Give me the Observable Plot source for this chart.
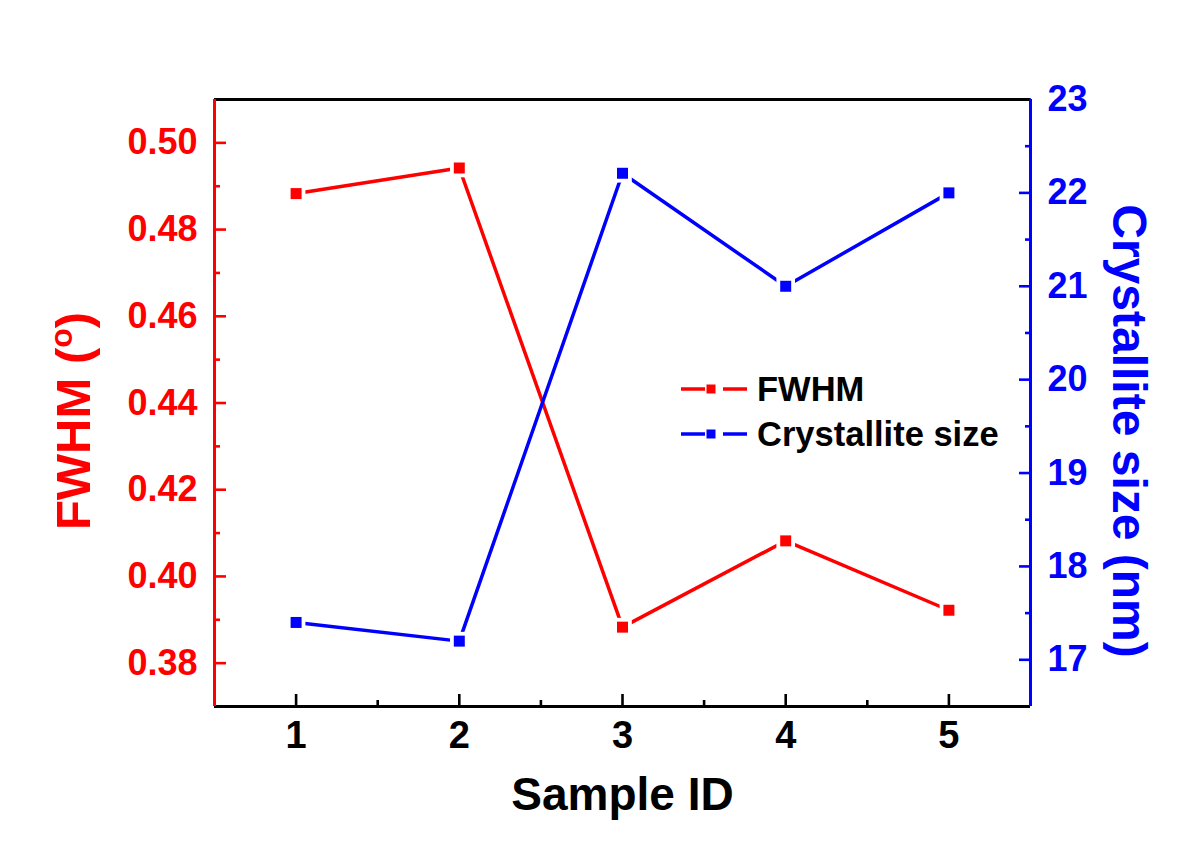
<!DOCTYPE html>
<html><head><meta charset="utf-8">
<script src="https://cdn.jsdelivr.net/npm/d3@7"></script>
<script src="https://cdn.jsdelivr.net/npm/@observablehq/plot@0.6"></script>
<style>body{margin:0;background:#fff} #chart{width:1200px;height:848px}</style>
</head><body><div id="chart"></div>
<script>
const sampleIds = [1, 2, 3, 4, 5];
const fwhm = [0.4883, 0.4942, 0.3883, 0.4082, 0.3922];
const crystalliteSize = [17.40, 17.20, 22.21, 21.00, 22.00];
const xDomain = [0.5, 5.5];
const leftDomain = [0.37, 0.51];
const rightDomain = [16.5, 23];
const xTicks = [1, 2, 3, 4, 5];
const xMinorTicks = [1.5, 2.5, 3.5, 4.5];
const leftTicks = [0.38, 0.40, 0.42, 0.44, 0.46, 0.48, 0.50];
const leftMinorTicks = [0.39, 0.41, 0.43, 0.45, 0.47, 0.49];
const rightTicks = [17, 18, 19, 20, 21, 22, 23];
const rightMinorTicks = [17.5, 18.5, 19.5, 20.5, 21.5, 22.5];
const xLabel = "Sample ID";
const leftLabel = "FWHM (o)";
const rightLabel = "Crystallite size (nm)";
const seriesNames = ["FWHM", "Crystallite size"];

const RED = "#ff0000", BLUE = "#0000ff";
const FONT = "Liberation Sans, Arial, Helvetica, sans-serif";

// map right-axis values into left-axis space
const toLeft = c => leftDomain[0] + (c - rightDomain[0]) * (leftDomain[1] - leftDomain[0]) / (rightDomain[1] - rightDomain[0]);
const fromLeft = v => rightDomain[0] + (v - leftDomain[0]) * (rightDomain[1] - rightDomain[0]) / (leftDomain[1] - leftDomain[0]);

const fwhmData = sampleIds.map((s, i) => ({sample: s, value: fwhm[i]}));
const sizeData = sampleIds.map((s, i) => ({sample: s, value: toLeft(crystalliteSize[i])}));

const axisStyle = {fontSize: 36, fontWeight: "bold", strokeWidth: 2.6, label: null};

const plot = Plot.plot({
  width: 1200,
  height: 848,
  marginLeft: 214,
  marginRight: 170,
  marginTop: 99,
  marginBottom: 142,
  style: {fontFamily: FONT, background: "white", overflow: "visible"},
  x: {domain: xDomain},
  y: {domain: leftDomain},
  marks: [
    // axes ticks & labels
    Plot.axisX({...axisStyle, ticks: xTicks, tickSize: -12, tickPadding: 27, fontSize: 38, color: "black", tickFormat: d => String(d)}),
    Plot.axisX({...axisStyle, ticks: xMinorTicks, tickSize: -6, tickPadding: 0, color: "black", tickFormat: () => ""}),
    Plot.axisY({...axisStyle, anchor: "left", ticks: leftTicks, tickSize: -12, tickPadding: 29, color: RED, tickFormat: d3.format(".2f")}),
    Plot.axisY({...axisStyle, anchor: "left", ticks: leftMinorTicks, tickSize: -6, tickPadding: 0, color: RED, tickFormat: () => ""}),
    Plot.axisY({...axisStyle, anchor: "right", ticks: rightTicks.map(toLeft), tickSize: -12, tickPadding: 29, color: BLUE, tickFormat: d => String(Math.round(fromLeft(d)))}),
    Plot.axisY({...axisStyle, anchor: "right", ticks: rightMinorTicks.map(toLeft), tickSize: -6, tickPadding: 0, color: BLUE, tickFormat: () => ""}),
    // frame
    Plot.ruleY([leftDomain[1]], {stroke: "black", strokeWidth: 3}),
    Plot.ruleY([leftDomain[0]], {stroke: "black", strokeWidth: 3}),
    Plot.ruleX([xDomain[0]], {stroke: RED, strokeWidth: 3}),
    Plot.ruleX([xDomain[1]], {stroke: BLUE, strokeWidth: 3}),
    // data
    Plot.line(fwhmData, {x: "sample", y: "value", stroke: RED, strokeWidth: 3.5}),
    Plot.line(sizeData, {x: "sample", y: "value", stroke: BLUE, strokeWidth: 3.5}),
    Plot.dot(fwhmData, {x: "sample", y: "value", symbol: "square", r: 10.5, fill: "white"}),
    Plot.dot(sizeData, {x: "sample", y: "value", symbol: "square", r: 10.5, fill: "white"}),
    Plot.dot(fwhmData, {x: "sample", y: "value", symbol: "square", r: 6.2, fill: RED}),
    Plot.dot(sizeData, {x: "sample", y: "value", symbol: "square", r: 6.2, fill: BLUE}),
    // axis titles
    Plot.text([xLabel], {frameAnchor: "bottom", lineAnchor: "bottom", textAnchor: "middle", dy: 103, fontSize: 46, fontWeight: "bold", fill: "black"}),
    Plot.text([leftLabel], {frameAnchor: "left", textAnchor: "middle", dx: -140, dy: 18, rotate: -90, lineAnchor: "middle", fontSize: 49, fontWeight: "bold", fill: RED}),
    Plot.text([rightLabel], {frameAnchor: "right", textAnchor: "middle", dx: 98, dy: 28, rotate: 90, lineAnchor: "middle", fontSize: 48, fontWeight: "bold", fill: BLUE})
  ]
});

document.getElementById("chart").appendChild(plot);

// superscript "o" in the left axis title
const svg = d3.select(plot);
svg.selectAll("text").each(function() {
  if (this.textContent === leftLabel) {
    const t = d3.select(this);
    t.text(null);
    t.append("tspan").text("FWHM (");
    t.append("tspan").attr("font-size", 32).attr("dy", -18).text("o");
    t.append("tspan").attr("dy", 18).text(")");
  }
});

// legend
const legend = svg.append("g").attr("font-family", FONT).attr("text-anchor", "start");
const rows = [{name: seriesNames[0], color: RED, y: 389}, {name: seriesNames[1], color: BLUE, y: 434}];
rows.forEach(r => {
  legend.append("line").attr("x1", 681).attr("x2", 705).attr("y1", r.y).attr("y2", r.y).attr("stroke", r.color).attr("stroke-width", 3.5);
  legend.append("line").attr("x1", 723).attr("x2", 747).attr("y1", r.y).attr("y2", r.y).attr("stroke", r.color).attr("stroke-width", 3.5);
  legend.append("rect").attr("x", 706.5).attr("y", r.y - 4.5).attr("width", 9).attr("height", 9).attr("fill", r.color);
  legend.append("text").attr("x", 757).attr("y", r.y + 12).attr("text-anchor", "start").attr("font-size", 34.5).attr("font-weight", "bold").attr("fill", "black").text(r.name);
});
</script>
</body></html>
